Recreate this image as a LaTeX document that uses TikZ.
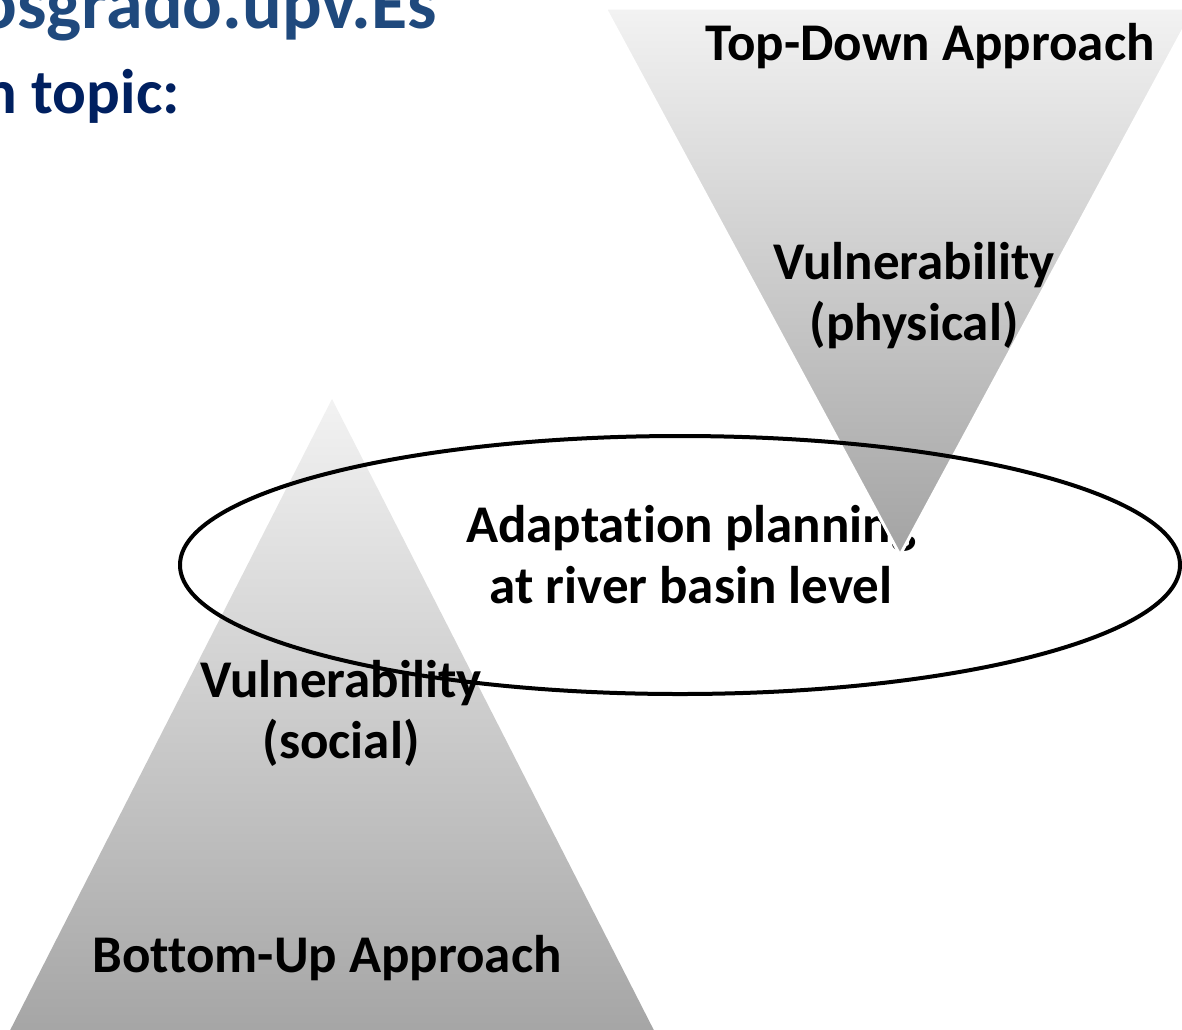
\documentclass[tikz,border=0pt]{standalone}
\usepackage{fontspec}
\setmainfont{Carlito}[Ligatures=NoCommon]
\definecolor{upvblue}{RGB}{31,73,125}
\definecolor{upvnavy}{RGB}{0,32,96}
\tikzset{label text/.style={
		font=\fontsize{26.5}{30.5}\selectfont\bfseries,
		align=center,
		inner sep=0pt,
		anchor=base,
	},
}
\tikzset{header/.style={
		font=\fontsize{31.5}{36}\selectfont\bfseries,
		inner sep=0pt,
		anchor=base east,
	},
}
\tikzset{pyramid/.style={
		top color=black!5,
		bottom color=black!36,
		draw=white,
		line width=1.5pt,
	},
}
\tikzset{ring/.style={
		draw=black,
		line width=2pt,
	},
}

\begin{document}
\begin{tikzpicture}[x=0.5pt, y=-0.5pt]

\useasboundingbox (0,0) rectangle (1182,1029);
\clip (0,0) rectangle (1182,1029);

% slide title, cut off at the edge
\node[header, text=upvblue, font=\fontsize{37}{40}\selectfont\bfseries] (web) at (437,28) {osgrado.upv.Es};
\node[header, text=upvnavy] (topic) at (180,113) {n topic:};

% bottom-up
\path[pyramid, draw=none] (332,399) -- (664,1050) -- (0,1050) -- cycle;
\node[label text] (social) at (341,758) {Vulnerability\\(social)};
\node[label text] (bottomup) at (327,972) {Bottom-Up Approach};

% middle
\node[label text] (plan) at (691,603) {Adaptation planning\\at river basin level};

% top-down
\path[pyramid] (605,8) -- (1195,8) -- (900,555) -- cycle;
\node[label text] (topdown) at (930,60) {Top-Down Approach};
\node[label text] (physical) at (914,340) {Vulnerability\\(physical)};

\draw[ring] (680,565) ellipse [x radius=500, y radius=129];

\end{tikzpicture}
\end{document}
